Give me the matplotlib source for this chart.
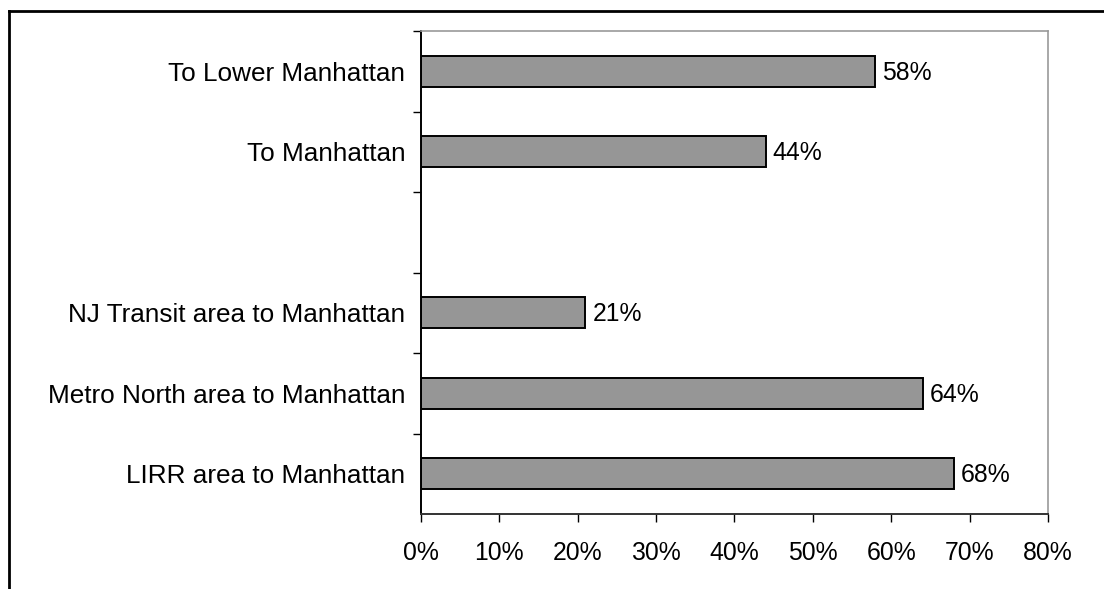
import matplotlib.pyplot as plt
from matplotlib.lines import Line2D
from matplotlib.ticker import FixedLocator, NullFormatter

# categories from bottom to top; the empty slot has no bar
categories = ["LIRR area to Manhattan", "Metro North area to Manhattan",
              "NJ Transit area to Manhattan", "", "To Manhattan", "To Lower Manhattan"]
values = [68, 64, 21, None, 44, 58]
x_ticks = [0, 10, 20, 30, 40, 50, 60, 70, 80]

plt.rcParams["font.family"] = ["Liberation Sans", "DejaVu Sans"]

fig = plt.figure(figsize=(11.04, 5.89), dpi=100)
ax = fig.add_axes([420.7 / 1104, 1 - 514 / 589, 627.3 / 1104, 483 / 589])

pos = list(range(len(categories)))
for y, v in zip(pos, values):
    if v is None:
        continue
    ax.barh(y, v, height=0.39, color="#969696", edgecolor="black", linewidth=1.4)
    ax.annotate(f"{v}%", (v, y), xytext=(5, -1), textcoords="offset points",
                va="center", ha="left", fontsize=17.8)

ax.set_xlim(0, 80)
ax.set_ylim(-0.5, len(categories) - 0.5)
ax.set_xticks(x_ticks)
ax.set_xticklabels([f"{t}%" for t in x_ticks], fontsize=17.8)

# category labels at centres, tick marks on boundaries
ax.set_yticks(pos)
ax.set_yticklabels(categories, fontsize=18.8)
ax.tick_params(axis="y", which="major", length=0, pad=11)
ax.yaxis.set_minor_locator(FixedLocator([p + 0.5 for p in pos]))
ax.yaxis.set_minor_formatter(NullFormatter())
ax.tick_params(axis="y", which="minor", length=5.5, width=1, color="black")
ax.tick_params(axis="x", length=5.8, width=1, pad=14, color="black")

ax.spines["left"].set_linewidth(1.4)
ax.spines["bottom"].set_linewidth(1.4)
ax.spines["bottom"].set_color("#333333")
for s in ["top", "right"]:
    ax.spines[s].set_color("#999999")
    ax.spines[s].set_linewidth(1.2)

# outer chart frame (top and left only, cropped)
fig.add_artist(Line2D([9 / 1104, 9 / 1104], [0, 1 - 11 / 589], color="black",
                      linewidth=2, transform=fig.transFigure))
fig.add_artist(Line2D([9 / 1104, 1], [1 - 11 / 589, 1 - 11 / 589], color="black",
                      linewidth=2, transform=fig.transFigure))

fig.savefig("out.png", dpi=100)
